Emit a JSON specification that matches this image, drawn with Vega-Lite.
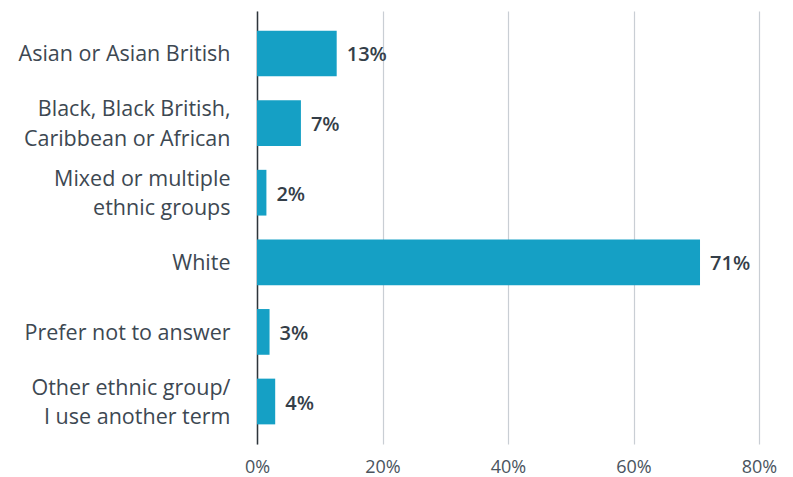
{
  "$schema": "https://vega.github.io/schema/vega-lite/v6.json",
  "width": 502,
  "height": 433,
  "autosize": "none",
  "padding": {"left": 257, "top": 11, "right": 34, "bottom": 33},
  "background": "white",
  "config": {"view": {"stroke": null}, "font": "Open Sans"},
  "data": {
    "values": [
      {"group": "Asian or Asian British", "pct": 12.7, "label": "13%"},
      {"group": "Black, Black British,|Caribbean or African", "pct": 7.0, "label": "7%"},
      {"group": "Mixed or multiple|ethnic groups", "pct": 1.5, "label": "2%"},
      {"group": "White", "pct": 70.6, "label": "71%"},
      {"group": "Prefer not to answer", "pct": 2.0, "label": "3%"},
      {"group": "Other ethnic group/|I use another term", "pct": 2.9, "label": "4%"}
    ]
  },
  "encoding": {
    "y": {
      "field": "group",
      "type": "nominal",
      "sort": null,
      "title": null,
      "scale": {"paddingInner": 0.343, "paddingOuter": 0.282},
      "axis": {
        "labelExpr": "split(datum.label, '|')",
        "labelFontSize": 21.5,
        "labelLineHeight": 29.5,
        "labelColor": "#3d4852",
        "labelPadding": 27,
        "labelOffset": {"condition": {"test": "indexof(datum.label, '|') >= 0", "value": -13}, "value": 2},
        "ticks": false,
        "domain": true,
        "domainColor": "#2e353b",
        "domainWidth": 1.5,
        "labelLimit": 300
      }
    },
    "x": {
      "field": "pct",
      "type": "quantitative",
      "title": null,
      "scale": {"domain": [0, 80], "nice": false},
      "axis": {
        "values": [0, 20, 40, 60, 80],
        "labelExpr": "datum.value + '%'",
        "labelFontSize": 18,
        "labelColor": "#4a545e",
        "labelPadding": 14,
        "labelFlush": false,
        "ticks": false,
        "domain": false,
        "grid": true,
        "gridColor": "#c9ced4",
        "gridWidth": 1.2
      }
    }
  },
  "layer": [
    {"mark": {"type": "bar", "color": "#15a0c5"}},
    {
      "mark": {"type": "text", "align": "left", "baseline": "middle", "dx": 10, "dy": 2, "fontSize": 20, "fontWeight": 600, "color": "#343e48"},
      "encoding": {"text": {"field": "label"}}
    }
  ]
}
